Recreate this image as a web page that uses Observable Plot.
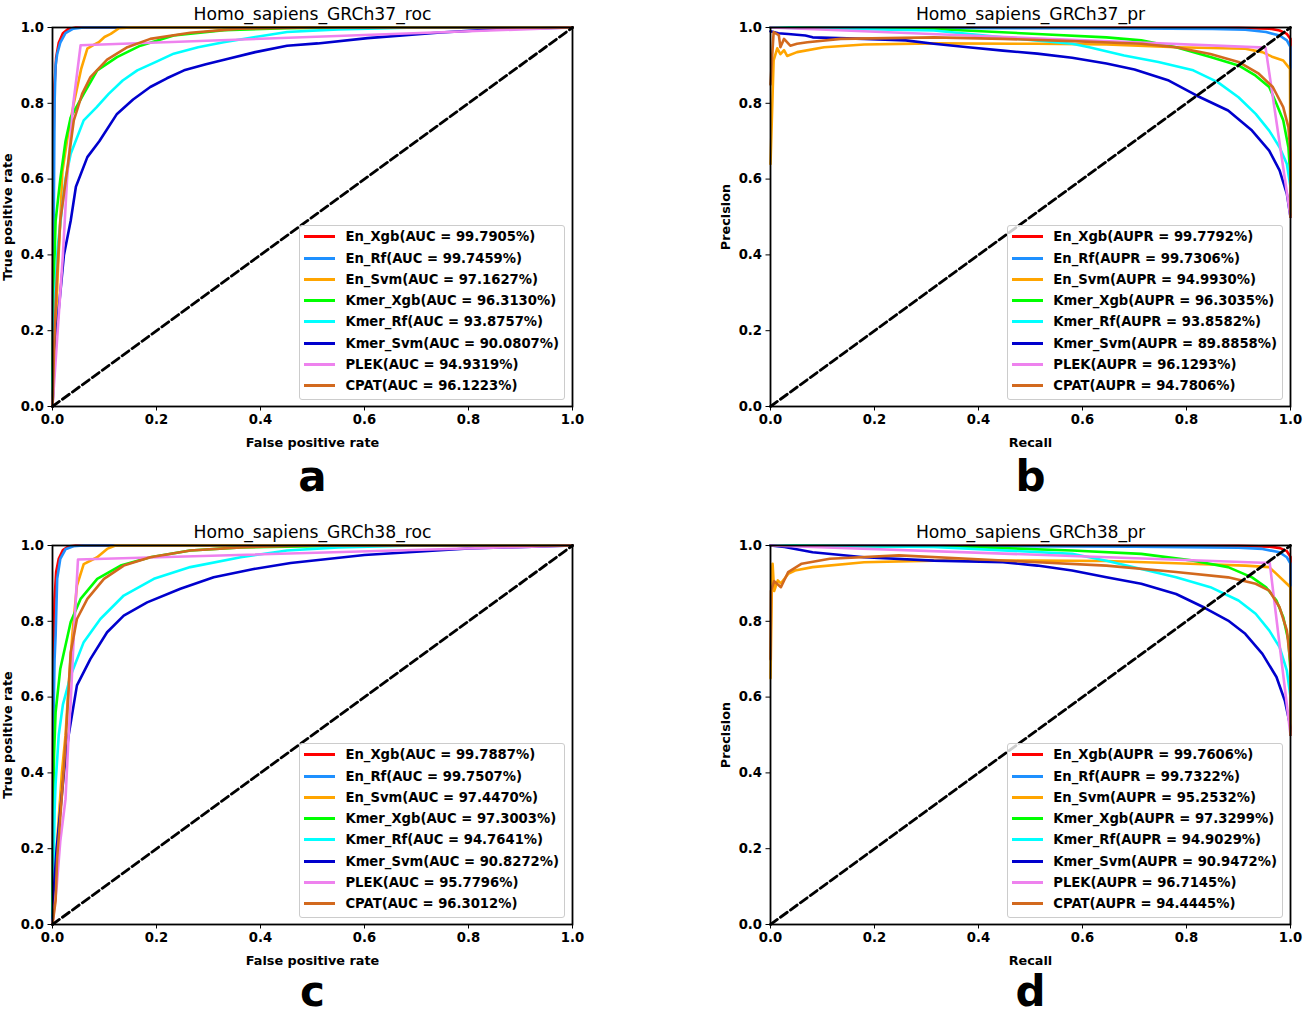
<!DOCTYPE html>
<html>
<head>
<meta charset="utf-8">
<script src="https://cdn.jsdelivr.net/npm/d3@7"></script>
<script src="https://cdn.jsdelivr.net/npm/@observablehq/plot@0.6"></script>
<style>
  html, body { margin: 0; padding: 0; background: #fff; }
  #fig { position: relative; width: 1304px; height: 1016px; background: #fff; overflow: hidden; font-family: 'DejaVu Sans', sans-serif; }
  .panel { position: absolute; width: 650px; height: 500px; }
  .legend { position: absolute; right: 85px; bottom: 100px; border: 1px solid #cccccc; border-radius: 3px;
            background: rgba(255,255,255,0.8); padding: 0 5px 2.5px 4px; font-size: 13.2px; font-weight: bold; color: #000; }
  .legend .row { display: flex; align-items: center; height: 21.3px; white-space: nowrap; }
  .legend .swatch { width: 31px; height: 3px; margin-right: 10px; flex: none; }
</style>
</head>
<body>
<div id="fig"></div>
<script>
// ---------- data ----------
const seriesNames = ["En_Xgb", "En_Rf", "En_Svm", "Kmer_Xgb", "Kmer_Rf", "Kmer_Svm", "PLEK", "CPAT"];
const seriesColors = ["#ff0000", "#1e90ff", "#ffa500", "#00ff00", "#00ffff", "#0000cd", "#ee82ee", "#d2691e"];
const axisTicks = [0, 0.2, 0.4, 0.6, 0.8, 1.0];
const diagonal = [[0, 0], [1, 1]];

// ROC GRCh37 : [fpr, tpr]
const rocGRCh37 = [
  [[0,0],[0.001,0.4],[0.002,0.7],[0.004,0.85],[0.007,0.92],[0.012,0.96],[0.02,0.985],[0.03,0.996],[0.045,1],[1,1]],
  [[0,0],[0.001,0.3],[0.003,0.6],[0.004,0.8],[0.006,0.9],[0.009,0.93],[0.015,0.96],[0.025,0.985],[0.04,0.997],[0.06,1],[1,1]],
  [[0,0],[0.003,0.1],[0.006,0.2],[0.01,0.35],[0.015,0.49],[0.019,0.62],[0.03,0.72],[0.041,0.8],[0.055,0.89],[0.067,0.944],[0.08,0.955],[0.089,0.961],[0.1,0.975],[0.112,0.983],[0.128,0.998],[0.15,1],[1,1]],
  [[0,0],[0.001,0.2],[0.003,0.35],[0.006,0.49],[0.015,0.6],[0.025,0.7],[0.035,0.763],[0.06,0.825],[0.086,0.887],[0.124,0.922],[0.169,0.952],[0.233,0.979],[0.33,0.993],[0.45,0.998],[0.6,1],[1,1]],
  [[0,0],[0.002,0.15],[0.005,0.3],[0.01,0.42],[0.018,0.52],[0.025,0.6],[0.035,0.667],[0.06,0.755],[0.085,0.79],[0.108,0.825],[0.135,0.86],[0.163,0.887],[0.2,0.91],[0.233,0.931],[0.28,0.948],[0.329,0.961],[0.39,0.975],[0.451,0.988],[0.55,0.995],[0.7,1],[1,1]],
  [[0,0],[0.003,0.1],[0.008,0.2],[0.015,0.3],[0.022,0.4],[0.035,0.49],[0.045,0.58],[0.067,0.658],[0.09,0.7],[0.124,0.772],[0.155,0.81],[0.188,0.843],[0.22,0.866],[0.253,0.887],[0.295,0.903],[0.336,0.917],[0.39,0.935],[0.451,0.952],[0.51,0.958],[0.606,0.972],[0.746,0.987],[0.85,0.995],[1,1]],
  [[0,0],[0.01,0.2],[0.02,0.4],[0.028,0.6],[0.04,0.8],[0.054,0.953],[1,1]],
  [[0,0],[0.003,0.15],[0.007,0.3],[0.011,0.4],[0.015,0.49],[0.028,0.623],[0.041,0.755],[0.057,0.825],[0.073,0.869],[0.105,0.915],[0.144,0.948],[0.188,0.97],[0.265,0.986],[0.362,0.997],[0.5,1],[1,1]]
];

// PR GRCh37 : [recall, precision]
const prGRCh37 = [
  [[0,1],[0.9,0.999],[0.96,0.997],[0.979,0.992],[0.993,0.983],[1,0.97],[1,0.5]],
  [[0,1],[0.6,0.998],[0.85,0.996],[0.913,0.994],[0.953,0.988],[0.979,0.979],[0.993,0.966],[1,0.948],[1,0.5]],
  [[0,0.64],[0.006,0.913],[0.013,0.945],[0.019,0.93],[0.026,0.94],[0.032,0.925],[0.051,0.935],[0.103,0.948],[0.18,0.955],[0.314,0.958],[0.513,0.957],[0.646,0.955],[0.78,0.948],[0.913,0.944],[0.946,0.935],[0.966,0.922],[0.986,0.913],[0.999,0.891],[1,0.5]],
  [[0,1],[0.314,0.996],[0.513,0.983],[0.646,0.974],[0.713,0.966],[0.78,0.948],[0.846,0.922],[0.9,0.9],[0.933,0.873],[0.959,0.843],[0.973,0.799],[0.986,0.755],[0.996,0.684],[1,0.6],[1,0.5]],
  [[0,1],[0.314,0.992],[0.447,0.974],[0.58,0.957],[0.613,0.948],[0.68,0.926],[0.746,0.909],[0.813,0.887],[0.86,0.856],[0.9,0.816],[0.933,0.772],[0.959,0.728],[0.979,0.684],[0.993,0.64],[1,0.579],[1,0.5]],
  [[0,0.99],[0.015,0.985],[0.034,0.983],[0.067,0.979],[0.081,0.974],[0.18,0.97],[0.26,0.966],[0.314,0.957],[0.38,0.948],[0.447,0.939],[0.513,0.931],[0.58,0.92],[0.646,0.905],[0.7,0.889],[0.766,0.86],[0.82,0.82],[0.88,0.781],[0.926,0.728],[0.959,0.675],[0.979,0.623],[0.993,0.561],[1,0.5]],
  [[0,1],[0.952,0.947],[1,0.5]],
  [[0,0.85],[0.006,0.988],[0.016,0.98],[0.019,0.948],[0.026,0.97],[0.038,0.952],[0.051,0.957],[0.071,0.961],[0.135,0.97],[0.314,0.974],[0.447,0.97],[0.58,0.964],[0.713,0.957],[0.78,0.948],[0.846,0.93],[0.9,0.909],[0.939,0.878],[0.966,0.843],[0.986,0.79],[0.996,0.737],[1,0.667],[1,0.5]]
];

// ROC GRCh38 : [fpr, tpr]
const rocGRCh38 = [
  [[0,0],[0.001,0.45],[0.002,0.72],[0.004,0.86],[0.007,0.93],[0.012,0.965],[0.02,0.988],[0.03,0.997],[0.045,1],[1,1]],
  [[0,0],[0.001,0.3],[0.002,0.55],[0.004,0.7],[0.006,0.763],[0.009,0.912],[0.015,0.965],[0.025,0.99],[0.04,0.998],[0.06,1],[1,1]],
  [[0,0],[0.004,0.1],[0.008,0.2],[0.013,0.3],[0.018,0.4],[0.025,0.499],[0.031,0.63],[0.038,0.763],[0.047,0.894],[0.06,0.951],[0.086,0.969],[0.105,0.991],[0.121,1],[1,1]],
  [[0,0],[0.001,0.2],[0.002,0.35],[0.003,0.45],[0.006,0.56],[0.015,0.675],[0.035,0.798],[0.054,0.859],[0.086,0.912],[0.131,0.947],[0.188,0.969],[0.265,0.987],[0.362,0.995],[0.6,1],[1,1]],
  [[0,0],[0.002,0.15],[0.004,0.3],[0.006,0.372],[0.012,0.5],[0.02,0.58],[0.035,0.657],[0.06,0.745],[0.092,0.806],[0.137,0.868],[0.195,0.912],[0.265,0.943],[0.362,0.969],[0.451,0.987],[0.55,0.995],[0.7,1],[1,1]],
  [[0,0],[0.003,0.1],[0.008,0.2],[0.015,0.3],[0.022,0.4],[0.031,0.499],[0.047,0.631],[0.073,0.701],[0.105,0.771],[0.137,0.815],[0.182,0.85],[0.246,0.886],[0.31,0.916],[0.387,0.938],[0.458,0.954],[0.6,0.975],[0.8,0.992],[1,1]],
  [[0,0],[0.008,0.1],[0.015,0.22],[0.025,0.33],[0.031,0.5],[0.035,0.587],[0.041,0.763],[0.049,0.963],[1,1]],
  [[0,0],[0.006,0.063],[0.009,0.178],[0.015,0.283],[0.022,0.415],[0.026,0.5],[0.035,0.718],[0.047,0.806],[0.067,0.859],[0.099,0.912],[0.137,0.947],[0.188,0.969],[0.265,0.987],[0.362,0.995],[0.5,1],[1,1]]
];

// PR GRCh38 : [recall, precision]
const prGRCh38 = [
  [[0,1],[0.9,0.999],[0.96,0.997],[0.98,0.993],[0.993,0.985],[1,0.97],[1,0.5]],
  [[0,1],[0.7,0.997],[0.9,0.994],[0.946,0.991],[0.979,0.982],[0.993,0.969],[1,0.952],[1,0.5]],
  [[0,0.65],[0.003,0.93],[0.004,0.952],[0.007,0.88],[0.014,0.908],[0.02,0.9],[0.034,0.925],[0.047,0.934],[0.081,0.943],[0.18,0.956],[0.314,0.96],[0.513,0.96],[0.646,0.959],[0.78,0.953],[0.913,0.947],[0.959,0.943],[0.973,0.925],[0.993,0.899],[1,0.89],[1,0.5]],
  [[0,1],[0.38,0.996],[0.58,0.987],[0.713,0.978],[0.813,0.96],[0.88,0.943],[0.926,0.916],[0.953,0.89],[0.973,0.855],[0.986,0.811],[0.996,0.749],[1,0.67],[1,0.5]],
  [[0,1],[0.314,0.996],[0.58,0.978],[0.646,0.96],[0.713,0.938],[0.78,0.916],[0.846,0.89],[0.9,0.855],[0.933,0.82],[0.959,0.776],[0.979,0.732],[0.993,0.67],[1,0.6],[1,0.5]],
  [[0,1],[0.027,0.996],[0.081,0.982],[0.18,0.969],[0.314,0.96],[0.447,0.956],[0.513,0.947],[0.58,0.934],[0.646,0.916],[0.713,0.899],[0.78,0.872],[0.833,0.837],[0.88,0.802],[0.913,0.767],[0.946,0.714],[0.973,0.653],[0.989,0.591],[1,0.521],[1,0.5]],
  [[0,1],[0.96,0.954],[1,0.5]],
  [[0,0.7],[0.001,0.88],[0.007,0.906],[0.02,0.89],[0.034,0.93],[0.06,0.952],[0.114,0.965],[0.247,0.974],[0.38,0.965],[0.513,0.956],[0.646,0.947],[0.78,0.93],[0.88,0.916],[0.933,0.899],[0.959,0.881],[0.979,0.837],[0.993,0.776],[1,0.688],[1,0.5]]
];

const aucGRCh37  = ["99.7905", "99.7459", "97.1627", "96.3130", "93.8757", "90.0807", "94.9319", "96.1223"];
const auprGRCh37 = ["99.7792", "99.7306", "94.9930", "96.3035", "93.8582", "89.8858", "96.1293", "94.7806"];
const aucGRCh38  = ["99.7887", "99.7507", "97.4470", "97.3003", "94.7641", "90.8272", "95.7796", "96.3012"];
const auprGRCh38 = ["99.7606", "99.7322", "95.2532", "97.3299", "94.9029", "90.9472", "96.7145", "94.4445"];

const panels = [
  {title: "Homo_sapiens_GRCh37_roc", curves: rocGRCh37, scores: aucGRCh37, metric: "AUC", xLabel: "False positive rate", yLabel: "True positive rate", letter: "a", left: 0, top: 0, letterDy: 84},
  {title: "Homo_sapiens_GRCh37_pr", curves: prGRCh37, scores: auprGRCh37, metric: "AUPR", xLabel: "Recall", yLabel: "Precision", letter: "b", left: 718, top: 0, letterDy: 84},
  {title: "Homo_sapiens_GRCh38_roc", curves: rocGRCh38, scores: aucGRCh38, metric: "AUC", xLabel: "False positive rate", yLabel: "True positive rate", letter: "c", left: 0, top: 518, letterDy: 81},
  {title: "Homo_sapiens_GRCh38_pr", curves: prGRCh38, scores: auprGRCh38, metric: "AUPR", xLabel: "Recall", yLabel: "Precision", letter: "d", left: 718, top: 518, letterDy: 81}
];

// ---------- drawing ----------
const fig = document.getElementById("fig");
const fmt = d3.format(".1f");

for (const p of panels) {
  const rows = p.curves.flatMap((pts, i) => pts.map(([x, y]) => ({series: seriesNames[i], x, y})));
  const chart = Plot.plot({
    width: 650, height: 500,
    marginLeft: 52, marginRight: 78, marginTop: 27, marginBottom: 94,
    style: {fontFamily: "'DejaVu Sans', sans-serif", fontSize: "13.2px", fontWeight: "bold", background: "white", color: "black", overflow: "visible"},
    x: {domain: [0, 1]},
    y: {domain: [0, 1]},
    color: {domain: seriesNames, range: seriesColors},
    marks: [
      Plot.line(rows, {x: "x", y: "y", z: "series", stroke: "series", strokeWidth: 2.6, strokeLinejoin: "round"}),
      Plot.line(diagonal, {x: d => d[0], y: d => d[1], stroke: "black", strokeWidth: 2.8, strokeDasharray: "8.5,3.8"}),
      Plot.axisX({ticks: axisTicks, tickFormat: fmt, tickSize: 4.5, tickPadding: 4, label: null}),
      Plot.axisY({ticks: axisTicks, tickFormat: fmt, tickSize: 4.5, tickPadding: 4, label: null}),
      Plot.frame({stroke: "black", strokeWidth: 1.8}),
      Plot.text([p.title], {text: d => d, frameAnchor: "top", lineAnchor: "bottom", dy: -7.5, fontSize: 17.2, fontWeight: "normal"}),
      Plot.text([p.xLabel], {text: d => d, frameAnchor: "bottom", lineAnchor: "bottom", dy: 40.5, fontSize: 12.8}),
      Plot.text([p.yLabel], {text: d => d, frameAnchor: "left", textAnchor: "middle", lineAnchor: "bottom", rotate: -90, dx: -41, fontSize: 12.8}),
      Plot.text([p.letter], {text: d => d, frameAnchor: "bottom", lineAnchor: "bottom", dy: p.letterDy, fontSize: 42, fontWeight: "bold"})
    ]
  });

  const panel = document.createElement("div");
  panel.className = "panel";
  panel.style.left = p.left + "px";
  panel.style.top = p.top + "px";
  panel.appendChild(chart);

  const legend = document.createElement("div");
  legend.className = "legend";
  seriesNames.forEach((name, i) => {
    const row = document.createElement("div");
    row.className = "row";
    const sw = document.createElement("span");
    sw.className = "swatch";
    sw.style.background = seriesColors[i];
    const label = document.createElement("span");
    label.textContent = `${name}(${p.metric} = ${p.scores[i]}%)`;
    row.appendChild(sw);
    row.appendChild(label);
    legend.appendChild(row);
  });
  panel.appendChild(legend);
  fig.appendChild(panel);
}
</script>
</body>
</html>
